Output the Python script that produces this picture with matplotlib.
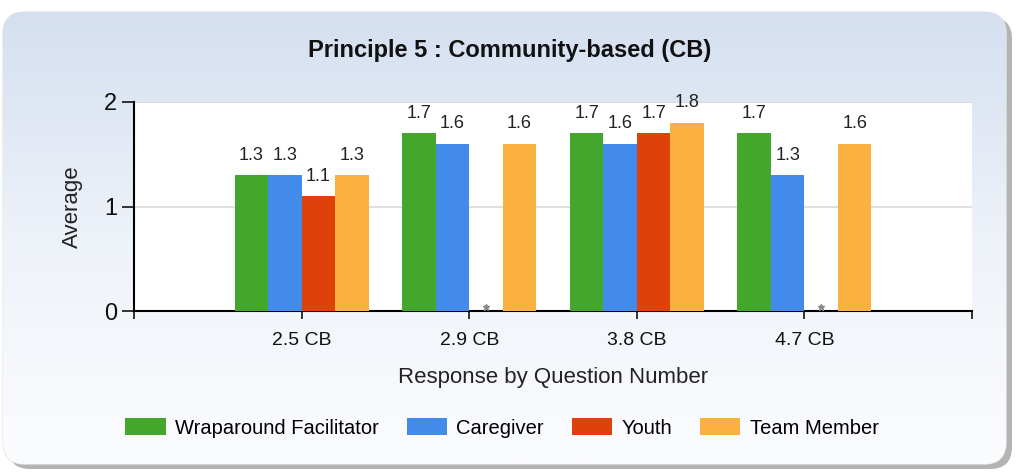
import numpy as np
import matplotlib
matplotlib.use("Agg")
import matplotlib.pyplot as plt
from matplotlib.patches import FancyBboxPatch, Patch
from matplotlib.colors import LinearSegmentedColormap

categories = ["2.5 CB", "2.9 CB", "3.8 CB", "4.7 CB"]
series_names = ["Wraparound Facilitator", "Caregiver", "Youth", "Team Member"]
facilitator = [1.3, 1.7, 1.7, 1.7]
caregiver = [1.3, 1.6, 1.6, 1.3]
youth = [1.1, None, 1.7, None]
team_member = [1.3, 1.6, 1.8, 1.6]
colors = ["#43a72b", "#428bea", "#df410b", "#fbb140"]
title = "Principle 5 : Community-based (CB)"
ylabel = "Average"
xlabel = "Response by Question Number"
yticks = [0, 1, 2]

FONT = ["Liberation Sans", "DejaVu Sans"]
W, H = 1021, 473
fig = plt.figure(figsize=(W / 100, H / 100), dpi=100)
fig.patch.set_facecolor("white")

# background panel with shadow and gradient
bg = fig.add_axes([0, 0, 1, 1], zorder=-10)
bg.set_xlim(0, W)
bg.set_ylim(H, 0)
bg.axis("off")
shadow = FancyBboxPatch((8, 17), 1004, 452, boxstyle="round,pad=0,rounding_size=22",
                        facecolor="#b4b4b4", edgecolor="none")
bg.add_patch(shadow)
panel = FancyBboxPatch((3, 12), 1003, 452, boxstyle="round,pad=0,rounding_size=22",
                       facecolor="none", edgecolor="#e6e6e6", linewidth=1)
bg.add_patch(panel)
grad = np.linspace(0, 1, 256).reshape(-1, 1)
cmap = LinearSegmentedColormap.from_list("g", ["#d4dff0", "#eef2f9", "#fbfcfe"])
im = bg.imshow(grad, cmap=cmap, extent=[3, 1006, 464, 12], aspect="auto", zorder=1)
im.set_clip_path(panel)

ax = fig.add_axes([134 / W, 1 - 311 / H, (972 - 134) / W, (311 - 102) / H])
ax.set_facecolor("white")

data = [facilitator, caregiver, youth, team_member]
x = np.arange(len(categories))
bw = 0.2
for i, (vals, c) in enumerate(zip(data, colors)):
    pos = x + (i - 1.5) * bw
    for p, v in zip(pos, vals):
        if v is None:
            ax.plot(p, 0.04, marker="*", color="#888888", markersize=5, clip_on=False, zorder=5)
            continue
        ax.bar(p, v, width=bw, color=c, edgecolor="none", zorder=3)
        ax.text(p, v + 0.11, f"{v:.1f}", ha="center", va="bottom", fontsize=13,
                color="#222222", family=FONT)

ax.set_xlim(-1, 4)
ax.set_ylim(0, 2)
ax.set_yticks(yticks)
ax.set_yticklabels([str(t) for t in yticks], fontsize=17, family=FONT)
ax.set_xticks(np.arange(-1, 5))
ax.set_xticklabels([""] + categories + [""], fontsize=14, family=FONT)
ax.tick_params(axis="x", length=6, width=1.2, pad=9, colors="#111111")
ax.tick_params(axis="y", length=9, width=1.2, pad=3, colors="#111111")
ax.grid(axis="y", color="#d9d9d9", linewidth=1.2, zorder=0)
ax.set_axisbelow(True)
for s in ["top", "right"]:
    ax.spines[s].set_visible(False)
ax.spines["left"].set_linewidth(1.5)
ax.spines["bottom"].set_linewidth(1.5)
ax.axhline(2, color="#e3e3e3", linewidth=1.5, zorder=0)

ax.set_ylabel(ylabel, fontsize=16, family=FONT, labelpad=15, color="#222222")
ax.set_xlabel(xlabel, fontsize=16, family=FONT, labelpad=13, color="#222222")

fig.text(510 / W, 1 - 50 / H, title, ha="center", va="center", fontsize=17, fontweight="bold",
         family=FONT, color="#111111")

handles = [Patch(facecolor=c, edgecolor="none") for c in colors]
fig.legend(handles, series_names, loc="center", bbox_to_anchor=(502 / W, 1 - 428 / H), ncol=4,
           frameon=False, prop={"family": FONT, "size": 14.5},
           handlelength=2.0, handleheight=0.85, columnspacing=1.4, handletextpad=0.45)

fig.savefig("out.png", dpi=100)
